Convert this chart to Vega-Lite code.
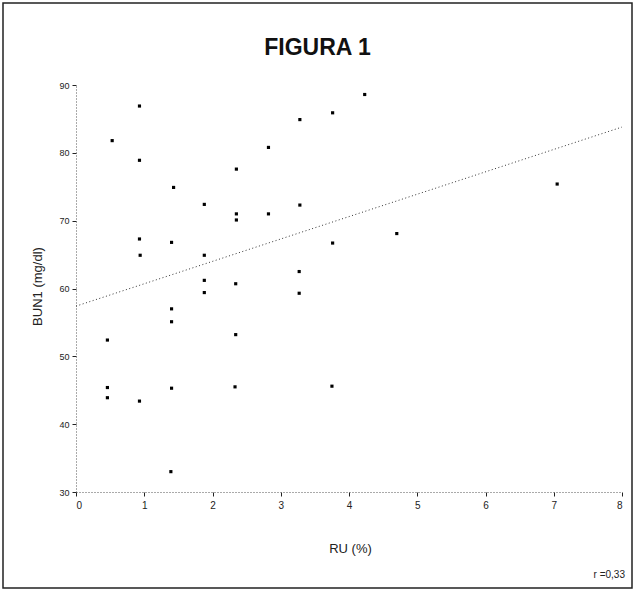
{
  "$schema": "https://vega.github.io/schema/vega-lite/v6.json",
  "width": 629,
  "height": 585,
  "autosize": "none",
  "padding": 3,
  "background": "white",
  "config": {
    "view": {"stroke": "#222", "strokeWidth": 1.5},
    "font": "Liberation Sans"
  },
  "title": {
    "text": "FIGURA 1",
    "frame": "group",
    "anchor": "middle",
    "offset": -57,
    "font": "Liberation Sans",
    "fontSize": 23,
    "fontWeight": "bold",
    "color": "#111"
  },
  "datasets": {
    "pts": [
      {"RU": 0.93, "BUN1": 86.9},
      {"RU": 0.53, "BUN1": 81.8},
      {"RU": 0.93, "BUN1": 78.9},
      {"RU": 1.43, "BUN1": 74.9},
      {"RU": 1.88, "BUN1": 72.4},
      {"RU": 2.35, "BUN1": 77.6},
      {"RU": 2.35, "BUN1": 71.0},
      {"RU": 2.35, "BUN1": 70.1},
      {"RU": 2.82, "BUN1": 80.8},
      {"RU": 2.82, "BUN1": 71.0},
      {"RU": 3.28, "BUN1": 84.9},
      {"RU": 3.28, "BUN1": 72.3},
      {"RU": 3.76, "BUN1": 85.9},
      {"RU": 0.93, "BUN1": 67.3},
      {"RU": 1.40, "BUN1": 66.8},
      {"RU": 3.76, "BUN1": 66.7},
      {"RU": 0.94, "BUN1": 64.9},
      {"RU": 1.88, "BUN1": 64.9},
      {"RU": 4.23, "BUN1": 88.6},
      {"RU": 7.05, "BUN1": 75.4},
      {"RU": 4.70, "BUN1": 68.1},
      {"RU": 3.27, "BUN1": 62.5},
      {"RU": 1.88, "BUN1": 61.2},
      {"RU": 2.34, "BUN1": 60.7},
      {"RU": 1.88, "BUN1": 59.4},
      {"RU": 3.27, "BUN1": 59.3},
      {"RU": 1.40, "BUN1": 57.0},
      {"RU": 1.40, "BUN1": 55.1},
      {"RU": 2.34, "BUN1": 53.2},
      {"RU": 0.46, "BUN1": 52.4},
      {"RU": 0.46, "BUN1": 45.4},
      {"RU": 1.40, "BUN1": 45.3},
      {"RU": 2.33, "BUN1": 45.5},
      {"RU": 3.75, "BUN1": 45.6},
      {"RU": 0.46, "BUN1": 43.9},
      {"RU": 0.93, "BUN1": 43.4},
      {"RU": 1.39, "BUN1": 33.0}
    ],
    "fit": [
      {"RU": 0.0, "BUN1": 57.4},
      {"RU": 8.0, "BUN1": 83.8}
    ],
    "note": [
      {"RU": 8.0, "BUN1": 17.8, "label": "r =0,33"}
    ]
  },
  "layer": [
    {
      "data": {"name": "fit"},
      "mark": {"type": "line", "color": "#333", "strokeWidth": 1, "strokeDash": [1, 2.5]},
      "encoding": {
        "x": {
          "field": "RU",
          "type": "quantitative",
          "scale": {"domain": [0, 8], "range": [73, 619], "nice": false, "zero": false},
          "axis": {
            "title": "RU (%)",
            "offset": -96,
            "values": [0, 1, 2, 3, 4, 5, 6, 7, 8],
            "format": "d",
            "grid": false,
            "domainColor": "#555",
            "domainDash": [1, 2],
            "domainWidth": 1,
            "tickColor": "#222",
            "tickSize": 4,
            "labelFontSize": 10,
            "labelColor": "#222",
            "labelPadding": 4,
            "titleFontSize": 13,
            "titleFontWeight": "normal",
            "titleColor": "#222",
            "titleBaseline": "middle",
            "titleY": 56,
            "titleX": 347
          }
        },
        "y": {
          "field": "BUN1",
          "type": "quantitative",
          "scale": {"domain": [30, 90], "range": [489, 82], "nice": false, "zero": false},
          "axis": {
            "title": "BUN1 (mg/dl)",
            "offset": -73,
            "values": [30, 40, 50, 60, 70, 80, 90],
            "format": "d",
            "grid": false,
            "domainColor": "#555",
            "domainDash": [1, 2],
            "domainWidth": 1,
            "tickColor": "#222",
            "tickSize": 4,
            "labelFontSize": 9,
            "labelColor": "#222",
            "labelPadding": 3,
            "titleFontSize": 13,
            "titleFontWeight": "normal",
            "titleColor": "#222",
            "titleAngle": 270,
            "titleBaseline": "middle",
            "titleX": -39,
            "titleY": 283
          }
        }
      }
    },
    {
      "data": {"name": "pts"},
      "mark": {"type": "point", "shape": "square", "filled": true, "color": "#000", "size": 10, "opacity": 1},
      "encoding": {
        "x": {"field": "RU", "type": "quantitative"},
        "y": {"field": "BUN1", "type": "quantitative"}
      }
    },
    {
      "data": {"name": "note"},
      "mark": {"type": "text", "align": "right", "baseline": "middle", "fontSize": 10, "color": "#222", "dx": 3},
      "encoding": {
        "x": {"field": "RU", "type": "quantitative"},
        "y": {"field": "BUN1", "type": "quantitative"},
        "text": {"field": "label"}
      }
    }
  ]
}
